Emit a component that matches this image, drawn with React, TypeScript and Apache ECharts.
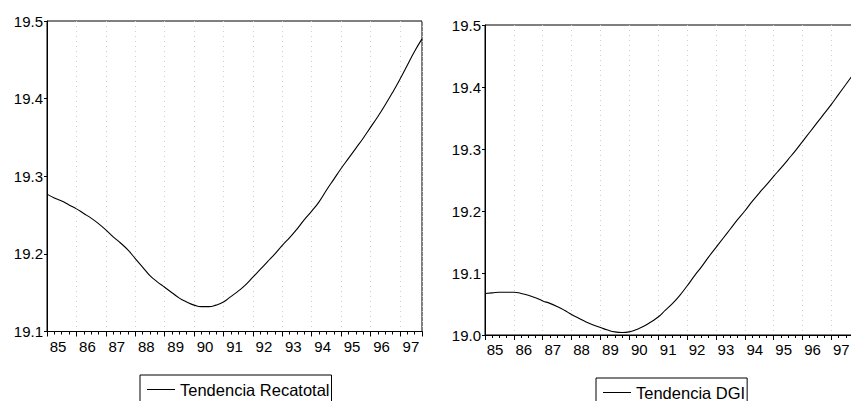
import React, { useEffect, useRef } from 'react';
import * as echarts from 'echarts';

// Tick labels for the years (one per 4 quarters, 1985..1997)
const yearLabels = ['85', '86', '87', '88', '89', '90', '91', '92', '93', '94', '95', '96', '97'];

// Quarterly values 1985Q1 .. 1997Q4
const recatotal = [
  19.277, 19.272, 19.268, 19.263, 19.258, 19.252, 19.246, 19.239,
  19.231, 19.222, 19.214, 19.205, 19.194, 19.183, 19.172, 19.164,
  19.157, 19.150, 19.143, 19.138, 19.134, 19.132, 19.132, 19.134,
  19.138, 19.145, 19.152, 19.160, 19.170, 19.180, 19.190, 19.200,
  19.211, 19.221, 19.232, 19.244, 19.255, 19.267, 19.282, 19.296,
  19.310, 19.323, 19.336, 19.349, 19.363, 19.377, 19.392, 19.408,
  19.425, 19.443, 19.461, 19.477,
];

const dgi = [
  19.067, 19.068, 19.069, 19.069, 19.069, 19.067, 19.064, 19.060,
  19.055, 19.051, 19.046, 19.040, 19.033, 19.027, 19.021, 19.016,
  19.012, 19.008, 19.005, 19.004, 19.005, 19.009, 19.014, 19.021,
  19.029, 19.040, 19.051, 19.064, 19.079, 19.095, 19.110, 19.126,
  19.141, 19.156, 19.171, 19.186, 19.200, 19.215, 19.229, 19.242,
  19.256, 19.269, 19.283, 19.297, 19.312, 19.327, 19.342, 19.357,
  19.372, 19.388, 19.404, 19.420,
];

const leftYRange = [19.1, 19.5];
const rightYRange = [19.0, 19.5];
const yStep = 0.1;

const seriesNames = ['Tendencia Recatotal', 'Tendencia DGI'];

const FONT = '"Liberation Sans", Arial, Helvetica, sans-serif';

function xAxesFor(gridIndex: number, nPoints: number, labelShift: number) {
  const maxIdx = nPoints - 1;
  return [
    {
      type: 'value',
      gridIndex,
      min: 0,
      max: maxIdx,
      interval: 4,
      position: 'bottom',
      axisLine: { show: true, onZero: false, lineStyle: { color: '#000', width: 1 } },
      axisTick: { show: true, length: 5, lineStyle: { color: '#000', width: 1 } },
      axisLabel: {
        show: true,
        margin: 7,
        color: '#000',
        fontSize: 15,
        fontFamily: FONT,
        padding: [0, 0, 0, labelShift * 2],
        formatter: (v: number) => (v % 4 === 0 && yearLabels[v / 4] ? yearLabels[v / 4] : ''),
      },
      splitLine: { show: true, lineStyle: { color: '#cdcdcd', width: 1, type: [1, 4] } },
    },
    {
      type: 'value',
      gridIndex,
      min: 0,
      max: maxIdx,
      interval: 1,
      position: 'bottom',
      axisLine: { show: false, onZero: false },
      axisTick: { show: true, length: 3, lineStyle: { color: '#000', width: 1 } },
      axisLabel: { show: false },
      splitLine: { show: false },
    },
  ];
}

function yAxisFor(gridIndex: number, range: number[]) {
  return {
    type: 'value',
    gridIndex,
    min: range[0],
    max: range[1],
    interval: yStep,
    axisLine: { show: true, onZero: false, lineStyle: { color: '#000', width: 1 } },
    axisTick: { show: true, length: 3, lineStyle: { color: '#000', width: 1 } },
    axisLabel: {
      margin: 4,
      color: '#000',
      fontSize: 15,
      fontFamily: FONT,
      formatter: (v: number) => v.toFixed(1),
    },
    splitLine: { show: false },
  };
}

export default function App() {
  const ref = useRef<HTMLDivElement>(null);

  useEffect(() => {
    if (!ref.current) return;
    const chart = echarts.init(ref.current, null, { renderer: 'svg' });
    const legendCommon = {
      orient: 'horizontal',
      icon: 'rect',
      itemWidth: 28,
      itemHeight: 1,
      itemGap: 0,
      borderColor: '#000',
      borderWidth: 1,
      borderRadius: 0,
      backgroundColor: '#fff',
      textStyle: { fontSize: 16.5, color: '#000', fontFamily: FONT },
    };
    chart.setOption({
      animation: false,
      backgroundColor: '#fff',
      grid: [
        { left: 47, top: 21, width: 375, height: 310.5, show: true, borderColor: '#000', borderWidth: 1, backgroundColor: 'transparent' },
        { left: 485, top: 25, width: 368, height: 310, show: true, borderColor: '#000', borderWidth: 1, backgroundColor: 'transparent' },
      ],
      xAxis: [...xAxesFor(0, recatotal.length, 11), ...xAxesFor(1, dgi.length, 10)],
      yAxis: [yAxisFor(0, leftYRange), yAxisFor(1, rightYRange)],
      legend: [
        { ...legendCommon, data: [seriesNames[0]], left: 140, top: 375, padding: [6, 2, 6, 7] },
        { ...legendCommon, data: [seriesNames[1]], left: 596, top: 378, padding: [6, 2, 6, 7] },
      ],
      series: [
        {
          type: 'line',
          name: seriesNames[0],
          xAxisIndex: 0,
          yAxisIndex: 0,
          data: recatotal.map((v, i) => [i, v]),
          symbol: 'none',
          showSymbol: false,
          smooth: true,
          lineStyle: { color: '#000', width: 1.1 },
          itemStyle: { color: '#000' },
        },
        {
          type: 'line',
          name: seriesNames[1],
          xAxisIndex: 2,
          yAxisIndex: 1,
          data: dgi.map((v, i) => [i, v]),
          symbol: 'none',
          showSymbol: false,
          smooth: true,
          lineStyle: { color: '#000', width: 1.1 },
          itemStyle: { color: '#000' },
        },
      ],
    });
    return () => chart.dispose();
  }, []);

  return (
    <div
      style={{ position: 'absolute', left: 0, top: 0, width: 851, height: 401, overflow: 'hidden', background: '#fff' }}
    >
      <div ref={ref} style={{ width: 862, height: 401 }} />
    </div>
  );
}
